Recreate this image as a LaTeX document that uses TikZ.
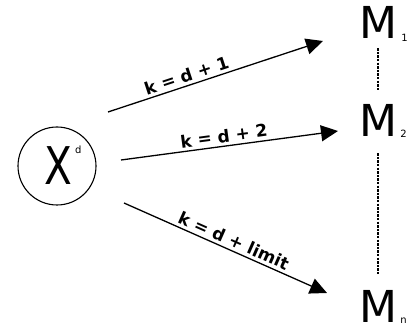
\documentclass[tikz,border=0pt]{standalone}
\usepackage{fontspec}
\setmainfont{DejaVu Sans}
\usetikzlibrary{arrows.meta,positioning}
\definecolor{ink}{RGB}{0,0,0}

\begin{document}
\begin{tikzpicture}[x=1pt,y=1pt,
    model/.style={font=\fontsize{44}{44}\selectfont, inner sep=0pt, text=ink},
    idx/.style={font=\fontsize{10}{12}\selectfont, inner sep=0pt, text=ink},
    edgelbl/.style={font=\fontsize{17}{20}\selectfont\bfseries, text=ink, sloped, above, inner sep=3pt},
    link/.style={-{Triangle[length=17pt,width=16pt]}, line width=1.3pt, ink},
    gap/.style={ink, line width=1.2pt, dash pattern=on 2.4pt off 1.2pt}]
  \useasboundingbox (0,0) rectangle (409,329);
  % source
  \node[draw=ink, line width=1.1pt, circle, minimum size=78pt, inner sep=0pt] (src) at (57,163) {};
  \node[font=\fontsize{52}{52}\selectfont, inner sep=0pt, anchor=base, xscale=0.78] (srcx) at (58.5,144) {X};
  \node[idx, anchor=base west] (srcd) at (75,175) {d};
  % models
  \node[model, anchor=base] (m1) at (378,290) {M};
  \node[model, anchor=base] (m2) at (378,192) {M};
  \node[model, anchor=base] (mn) at (378,7) {M};
  \node[idx, anchor=base west, xshift=4pt, yshift=-3pt] (m1i) at (m1.base east) {1};
  \node[idx, anchor=base west, xshift=3pt, yshift=-1pt] (m2i) at (m2.base east) {2};
  \node[idx, anchor=base west, xshift=3pt, yshift=-1pt] (mni) at (mn.base east) {n};
  \draw[gap, shorten <=9pt, shorten >=15pt] (m1) -- (m2);
  \draw[gap, shorten <=16pt, shorten >=15pt] (m2) -- (mn);
  % arrows
  \coordinate (s1) at (108,217);
  \coordinate (t1) at (323,288);
  \coordinate (s2) at (121,169);
  \coordinate (t2) at (338,198);
  \coordinate (s3) at (124,126);
  \coordinate (t3) at (327,36);
  \draw[link] (s1) -- (t1) node[edgelbl, pos=0.38] {k = d + 1};
  \draw[link] (s2) -- (t2) node[edgelbl, pos=0.48] {k = d + 2};
  \draw[link] (s3) -- (t3) node[edgelbl, pos=0.52] {k = d + limit};
\end{tikzpicture}
\end{document}
